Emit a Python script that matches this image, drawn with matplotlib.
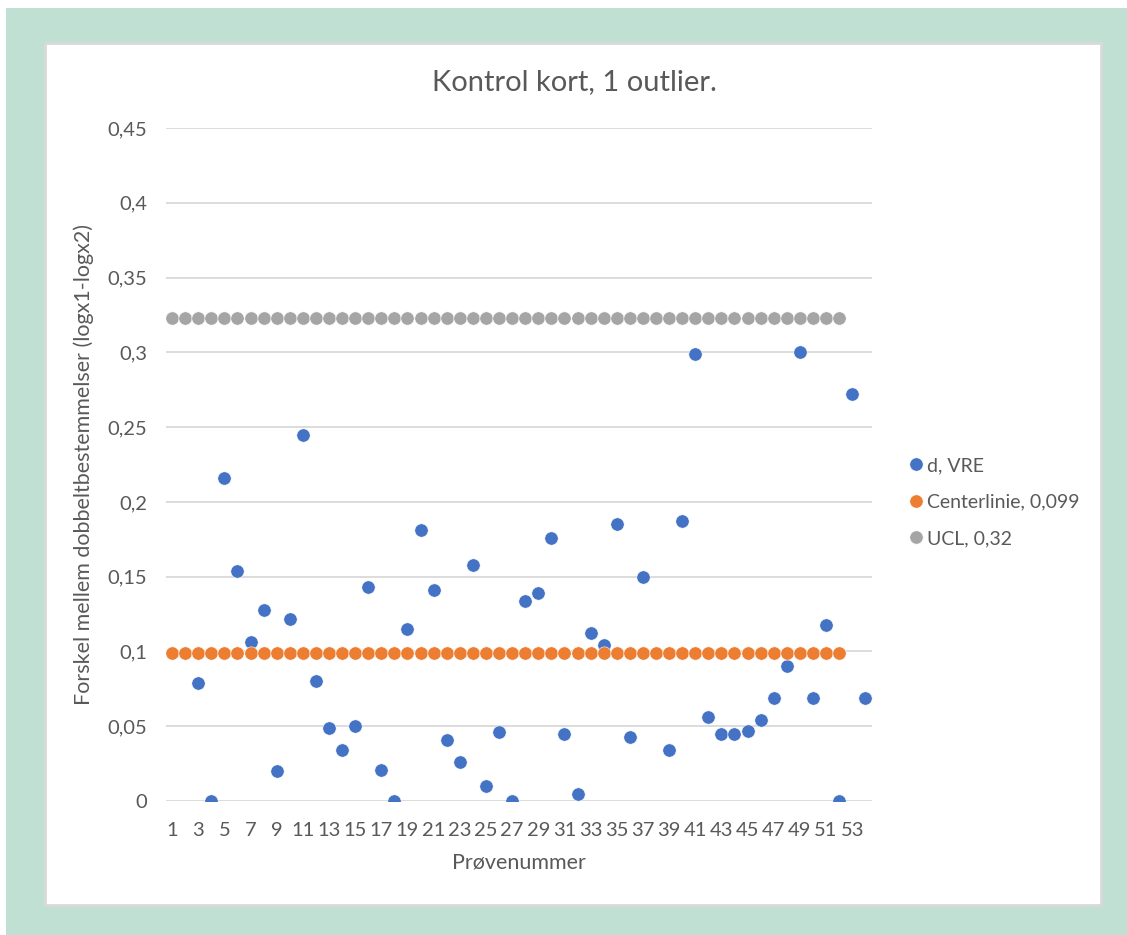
import numpy as np
import matplotlib.pyplot as plt
from matplotlib.patches import Rectangle

# prøvenummer 1..54, d = |log x1 - log x2| (NaN = ingen værdi)
provenummer = np.arange(1, 55)
d_vre = [np.nan, np.nan, 0.079, 0.0, 0.216, 0.154, 0.106, 0.128, 0.020, 0.122,
         0.245, 0.080, 0.049, 0.034, 0.050, 0.143, 0.021, 0.0, 0.115, 0.181,
         0.141, 0.041, 0.026, 0.158, 0.010, 0.046, 0.0, 0.134, 0.139, 0.176,
         0.045, 0.005, 0.112, 0.104, 0.185, 0.043, 0.150, np.nan, 0.034, 0.187,
         0.299, 0.056, 0.045, 0.045, 0.047, 0.054, 0.069, 0.090, 0.300, 0.069,
         0.118, 0.0, 0.272, 0.069]

n_graenser = 52
centerlinie = 0.099
ucl = 0.323

plt.rcParams['font.family'] = ['Lato', 'DejaVu Sans']
tekst = '#595959'

fig = plt.figure(figsize=(11.27, 9.35), dpi=100, facecolor='white')
W, H = 1127, 935

# grøn baggrund og hvid diagramflade
fig.patches.append(Rectangle((6 / W, 0), 1 - 6 / W, 1 - 8 / H, transform=fig.transFigure,
                             facecolor='#bfe0d2', edgecolor='none', zorder=-2))
fig.patches.append(Rectangle((45 / W, 1 - 905 / H), (1101 - 45) / W, (905 - 43) / H,
                             transform=fig.transFigure, facecolor='white',
                             edgecolor='#d9d9d9', linewidth=2, zorder=-1))

ax = fig.add_axes([165.5 / W, 1 - 801 / H, (871.8 - 165.5) / W, (801 - 128) / H])
ax.set_facecolor('none')

ms = 9.6
ax.plot(provenummer, d_vre, 'o', color='#4472c4', ms=ms, mec='white', mew=0.4,
        label='d, VRE', zorder=3)
ax.plot(provenummer[:n_graenser], [centerlinie] * n_graenser, 'o', color='#ed7d31', ms=ms,
        mec='white', mew=0.4, label='Centerlinie, 0,099', zorder=4)
ax.plot(provenummer[:n_graenser], [ucl] * n_graenser, 'o', color='#a5a5a5', ms=ms,
        mec='white', mew=0.4, label='UCL, 0,32', zorder=5)

ax.set_xlim(0.5, 54.5)
ax.set_ylim(0, 0.45)
yt = np.arange(0, 0.451, 0.05)
ax.set_yticks(yt)
ax.set_yticklabels(['0', '0,05', '0,1', '0,15', '0,2', '0,25', '0,3', '0,35', '0,4', '0,45'])
ax.set_xticks(provenummer[::2])
ax.set_xticklabels([str(v) for v in provenummer[::2]])
ax.grid(axis='y', color='#d9d9d9', linewidth=1.3)
ax.set_axisbelow(True)
for s in ax.spines.values():
    s.set_visible(False)
ax.tick_params(length=0, colors=tekst, labelsize=14.5)
ax.tick_params(axis='y', pad=13)
ax.tick_params(axis='x', pad=15)

ax.set_xlabel('Prøvenummer', fontsize=15.5, color=tekst, labelpad=10)
ax.set_ylabel('Forskel mellem dobbeltbestemmelser (logx1-logx2)', fontsize=15.5,
              color=tekst, labelpad=10)
fig.text(574 / W, 1 - 82 / H, 'Kontrol kort, 1 outlier.', ha='center', va='center',
         fontsize=21, color=tekst)

ax.legend(loc='center left', bbox_to_anchor=(906 / W, 1 - 502 / H),
          bbox_transform=fig.transFigure, frameon=False, fontsize=14,
          labelcolor=tekst, handletextpad=0.1, labelspacing=1.0, markerscale=1.0,
          handlelength=1.0, borderaxespad=0, borderpad=0)

fig.savefig('out.png', dpi=100, facecolor=fig.get_facecolor())
